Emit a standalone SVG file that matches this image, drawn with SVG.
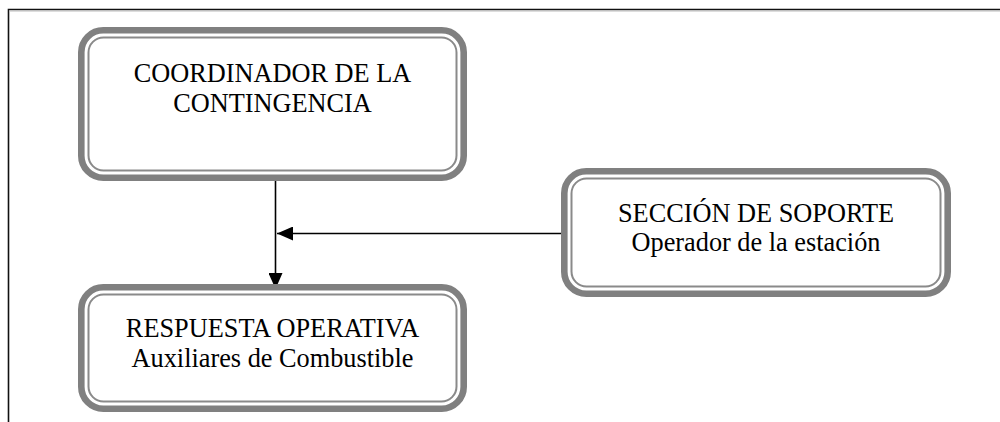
<svg xmlns="http://www.w3.org/2000/svg" width="1000" height="422" viewBox="0 0 1000 422">
  <style>
    .outer { fill: #ffffff; stroke: #808080; stroke-width: 6.6; }
    .inner { fill: none; stroke: #8a8a8a; stroke-width: 2; }
    .label { font-family: 'Liberation Serif', 'Times New Roman', serif; font-size: 26.3px; fill: #000; text-anchor: middle; }
    .conn { stroke: #000; stroke-width: 1.6; fill: none; }
    .frame { stroke: #111; stroke-width: 1.6; fill: none; }
  </style>
  <defs>
    <marker id="arrow" markerUnits="userSpaceOnUse" markerWidth="16" markerHeight="14" refX="16" refY="7" orient="auto">
      <path d="M0,0 L16,7 L0,14 z" fill="#000"/>
    </marker>
  </defs>
  <rect width="1000" height="422" fill="#fff"/>
  <g id="frame">
    <path class="frame" d="M8.5,422 L8.5,9.5 L1000,9.5"/>
    <line x1="9" y1="11" x2="1000" y2="11" stroke="#bbb" stroke-width="1"/>
  </g>
  <g id="connectors">
    <line class="conn" x1="275.5" y1="181" x2="275.5" y2="289" marker-end="url(#arrow)"/>
    <line class="conn" x1="561" y1="233.5" x2="277" y2="233.5" marker-end="url(#arrow)"/>
  </g>
  <g id="node-coordinador">
    <rect class="outer" x="81.3" y="30.3" width="382.4" height="147.4" rx="22"/>
    <rect class="inner" x="88.5" y="37.5" width="368" height="133" rx="15"/>
    <text class="label" x="272.5" y="82">COORDINADOR DE LA</text>
    <text class="label" x="272.5" y="112">CONTINGENCIA</text>
  </g>
  <g id="node-respuesta">
    <rect class="outer" x="81.3" y="287.3" width="382.4" height="121.4" rx="22"/>
    <rect class="inner" x="88.5" y="294.5" width="368" height="107" rx="15"/>
    <text class="label" x="272.5" y="337">RESPUESTA OPERATIVA</text>
    <text class="label" x="272.5" y="367">Auxiliares de Combustible</text>
  </g>
  <g id="node-seccion">
    <rect class="outer" x="564.3" y="171.3" width="383.4" height="122.4" rx="22"/>
    <rect class="inner" x="571.5" y="178.5" width="369" height="108" rx="15"/>
    <text class="label" x="756" y="222">SECCIÓN DE SOPORTE</text>
    <text class="label" x="756" y="251">Operador de la estación</text>
  </g>
</svg>
